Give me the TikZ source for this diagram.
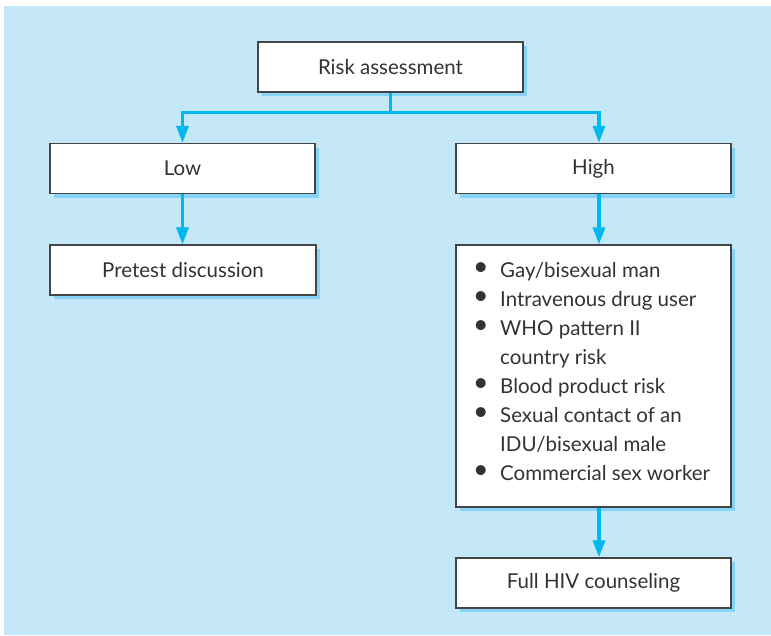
\documentclass[tikz,border=0pt]{standalone}
\usepackage{fontspec}
\usepackage{graphicx}
\setmainfont{Lato}
\usetikzlibrary{arrows.meta,shadows}
\definecolor{panel}{HTML}{C5E8F9}
\definecolor{boxshadow}{HTML}{86D3F6}
\definecolor{flow}{HTML}{00B8F0}
\definecolor{ink}{HTML}{333333}
\definecolor{edge}{HTML}{444444}
\newcommand\listdot{\makebox[8pt][l]{\raisebox{1.8pt}{\scalebox{1.3}{\textbullet}}}}
\tikzset{
  box/.style={draw=edge, line width=1.3pt, fill=white, rectangle,
    minimum height=50pt, inner sep=0pt, text=ink,
    font=\fontsize{20.5}{29}\selectfont,
    general shadow={fill=boxshadow, shadow xshift=4pt, shadow yshift=-4pt}},
  flowline/.style={draw=flow, line width=3.3pt,
    -{Triangle[length=17pt,width=12pt]}},
}
\begin{document}
\begin{tikzpicture}[x=1pt,y=-1pt]
  \useasboundingbox (0,0) rectangle (771,635);
  \fill[panel] (4,6) rectangle (771,635);

  \node[box, minimum width=265pt] (risk) at (390.5,67) {Risk assessment};
  \node[box, minimum width=265pt] (low) at (182.5,168.5) {Low};
  \node[box, minimum width=275pt] (high) at (593.5,168.5) {High};
  \node[box, minimum width=266pt] (pretest) at (183,270) {Pretest discussion};
  \node[box, minimum width=275pt, minimum height=262pt] (risks) at (593.5,376) {};
  \node[box, minimum width=275pt] (full) at (593.5,583) {Full HIV counseling};

  % bullet list inside the tall box
  \node[anchor=base west, inner sep=0pt, text=ink,
        font=\fontsize{20.5}{29}\selectfont] (risklist) at (473,277)
    {\begin{tabular}[t]{@{}l@{\hspace{19pt}}l@{}}
      \listdot & Gay/bisexual man\\
      \listdot & Intravenous drug user\\
      \listdot & WHO pattern II\\
               & country risk\\
      \listdot & Blood product risk\\
      \listdot & Sexual contact of an\\
               & IDU/bisexual male\\
      \listdot & Commercial sex worker
    \end{tabular}};

  % connectors
  \coordinate (split) at ([yshift=-20pt]risk.south);
  \draw[flowline, -] (risk.south) -- (split);
  \draw[flowline] (split) -| (low.north);
  \draw[flowline] (split) -| ([xshift=5.5pt]high.north);
  \draw[flowline] (low.south) -- (pretest.north -| low.south);
  \draw[flowline] ([xshift=5.5pt]high.south) -- ([xshift=5.5pt]risks.north);
  \draw[flowline] ([xshift=5.5pt]risks.south) -- ([xshift=5.5pt]full.north);
\end{tikzpicture}
\end{document}
